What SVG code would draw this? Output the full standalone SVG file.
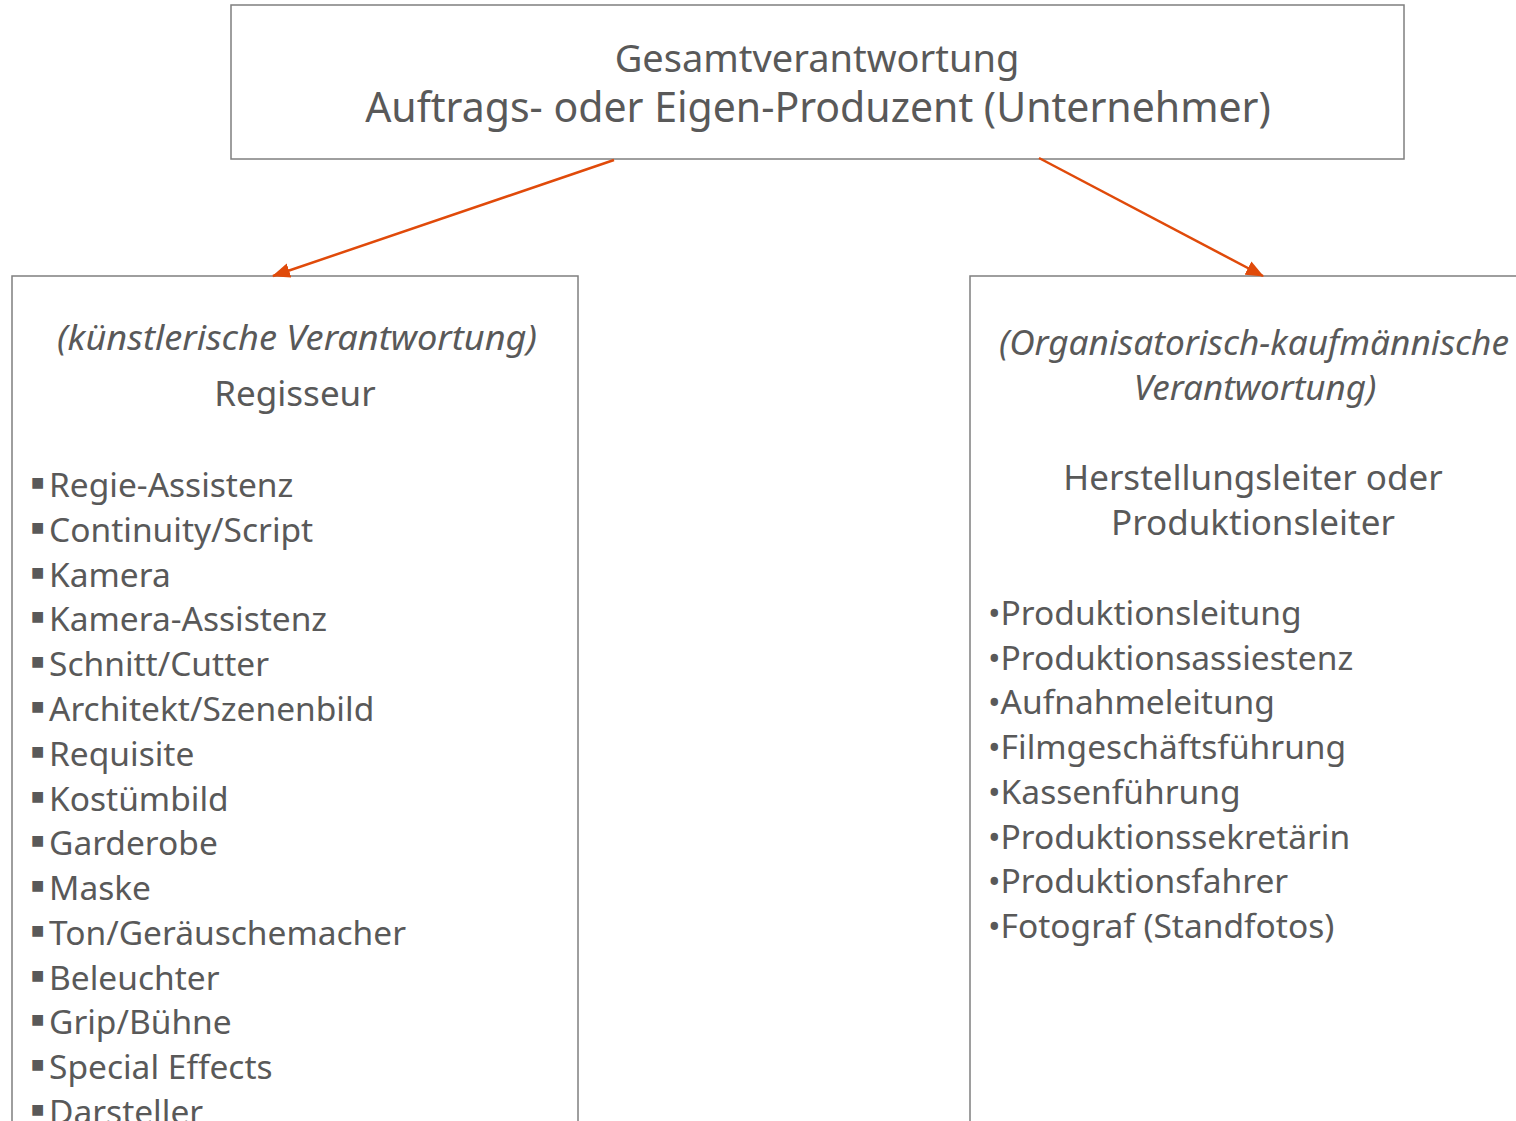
<svg xmlns="http://www.w3.org/2000/svg" width="1516" height="1121" viewBox="0 0 1516 1121">
<style>
text{font-family:"Noto Sans","Open Sans",sans-serif;fill:#595959}
.box{fill:#fff;stroke:#7f7f7f;stroke-width:1.5}
.c{text-anchor:middle}
.it{font-style:italic;font-size:35px}
.h{font-size:35px}
.li{font-size:33.5px}
.b{font-size:22px}
.conn{stroke:#e04a0a;stroke-width:2.5;fill:none}
</style>
<defs>
<marker id="ah" viewBox="0 0 18 15" refX="17" refY="7.5" markerWidth="18" markerHeight="15" orient="auto" markerUnits="userSpaceOnUse">
<path d="M0,0 L18,7.5 L0,15 z" fill="#e04a0a"/>
</marker>
</defs>
<rect width="1516" height="1121" fill="#fff"/>
<g id="top">
<rect class="box" x="231" y="5" width="1173" height="154"/>
<text class="c" x="817" y="72" style="font-size:38px">Gesamtverantwortung</text>
<text class="c" x="818" y="122" style="font-size:41px">Auftrags- oder Eigen-Produzent (Unternehmer)</text>
</g>
<g id="left">
<rect class="box" x="12" y="276" width="566" height="860"/>
<text class="c it" x="297" y="350" textLength="480" lengthAdjust="spacingAndGlyphs">(künstlerische Verantwortung)</text>
<text class="c h" x="295" y="406">Regisseur</text>
<g class="li">
<text x="31" y="497"><tspan class="b" dy="-7">■</tspan><tspan x="49" dy="7">Regie-Assistenz</tspan></text>
<text x="31" y="542"><tspan class="b" dy="-7">■</tspan><tspan x="49" dy="7">Continuity/Script</tspan></text>
<text x="31" y="587"><tspan class="b" dy="-7">■</tspan><tspan x="49" dy="7">Kamera</tspan></text>
<text x="31" y="631"><tspan class="b" dy="-7">■</tspan><tspan x="49" dy="7">Kamera-Assistenz</tspan></text>
<text x="31" y="676"><tspan class="b" dy="-7">■</tspan><tspan x="49" dy="7">Schnitt/Cutter</tspan></text>
<text x="31" y="721"><tspan class="b" dy="-7">■</tspan><tspan x="49" dy="7">Architekt/Szenenbild</tspan></text>
<text x="31" y="766"><tspan class="b" dy="-7">■</tspan><tspan x="49" dy="7">Requisite</tspan></text>
<text x="31" y="811"><tspan class="b" dy="-7">■</tspan><tspan x="49" dy="7">Kostümbild</tspan></text>
<text x="31" y="855"><tspan class="b" dy="-7">■</tspan><tspan x="49" dy="7">Garderobe</tspan></text>
<text x="31" y="900"><tspan class="b" dy="-7">■</tspan><tspan x="49" dy="7">Maske</tspan></text>
<text x="31" y="945"><tspan class="b" dy="-7">■</tspan><tspan x="49" dy="7">Ton/Geräuschemacher</tspan></text>
<text x="31" y="990"><tspan class="b" dy="-7">■</tspan><tspan x="49" dy="7">Beleuchter</tspan></text>
<text x="31" y="1034"><tspan class="b" dy="-7">■</tspan><tspan x="49" dy="7">Grip/Bühne</tspan></text>
<text x="31" y="1079"><tspan class="b" dy="-7">■</tspan><tspan x="49" dy="7">Special Effects</tspan></text>
<text x="31" y="1124"><tspan class="b" dy="-7">■</tspan><tspan x="49" dy="7">Darsteller</tspan></text>
</g>
</g>
<g id="right">
<rect class="box" x="970" y="276" width="600" height="860"/>
<text class="c it" x="1254" y="355" textLength="510" lengthAdjust="spacingAndGlyphs">(Organisatorisch-kaufmännische</text>
<text class="c it" x="1255" y="400">Verantwortung)</text>
<text class="c h" x="1253" y="490">Herstellungsleiter oder</text>
<text class="c h" x="1253" y="535">Produktionsleiter</text>
<g class="li">
<text x="988" y="625">•Produktionsleitung</text>
<text x="988" y="670">•Produktionsassiestenz</text>
<text x="988" y="714">•Aufnahmeleitung</text>
<text x="988" y="759">•Filmgeschäftsführung</text>
<text x="988" y="804">•Kassenführung</text>
<text x="988" y="849">•Produktionssekretärin</text>
<text x="988" y="893">•Produktionsfahrer</text>
<text x="988" y="938">•Fotograf (Standfotos)</text>
</g>
</g>
<g id="connectors">
<line class="conn" x1="614" y1="160" x2="273" y2="276" marker-end="url(#ah)"/>
<line class="conn" x1="1039" y1="158" x2="1263" y2="276" marker-end="url(#ah)"/>
</g>
</svg>
